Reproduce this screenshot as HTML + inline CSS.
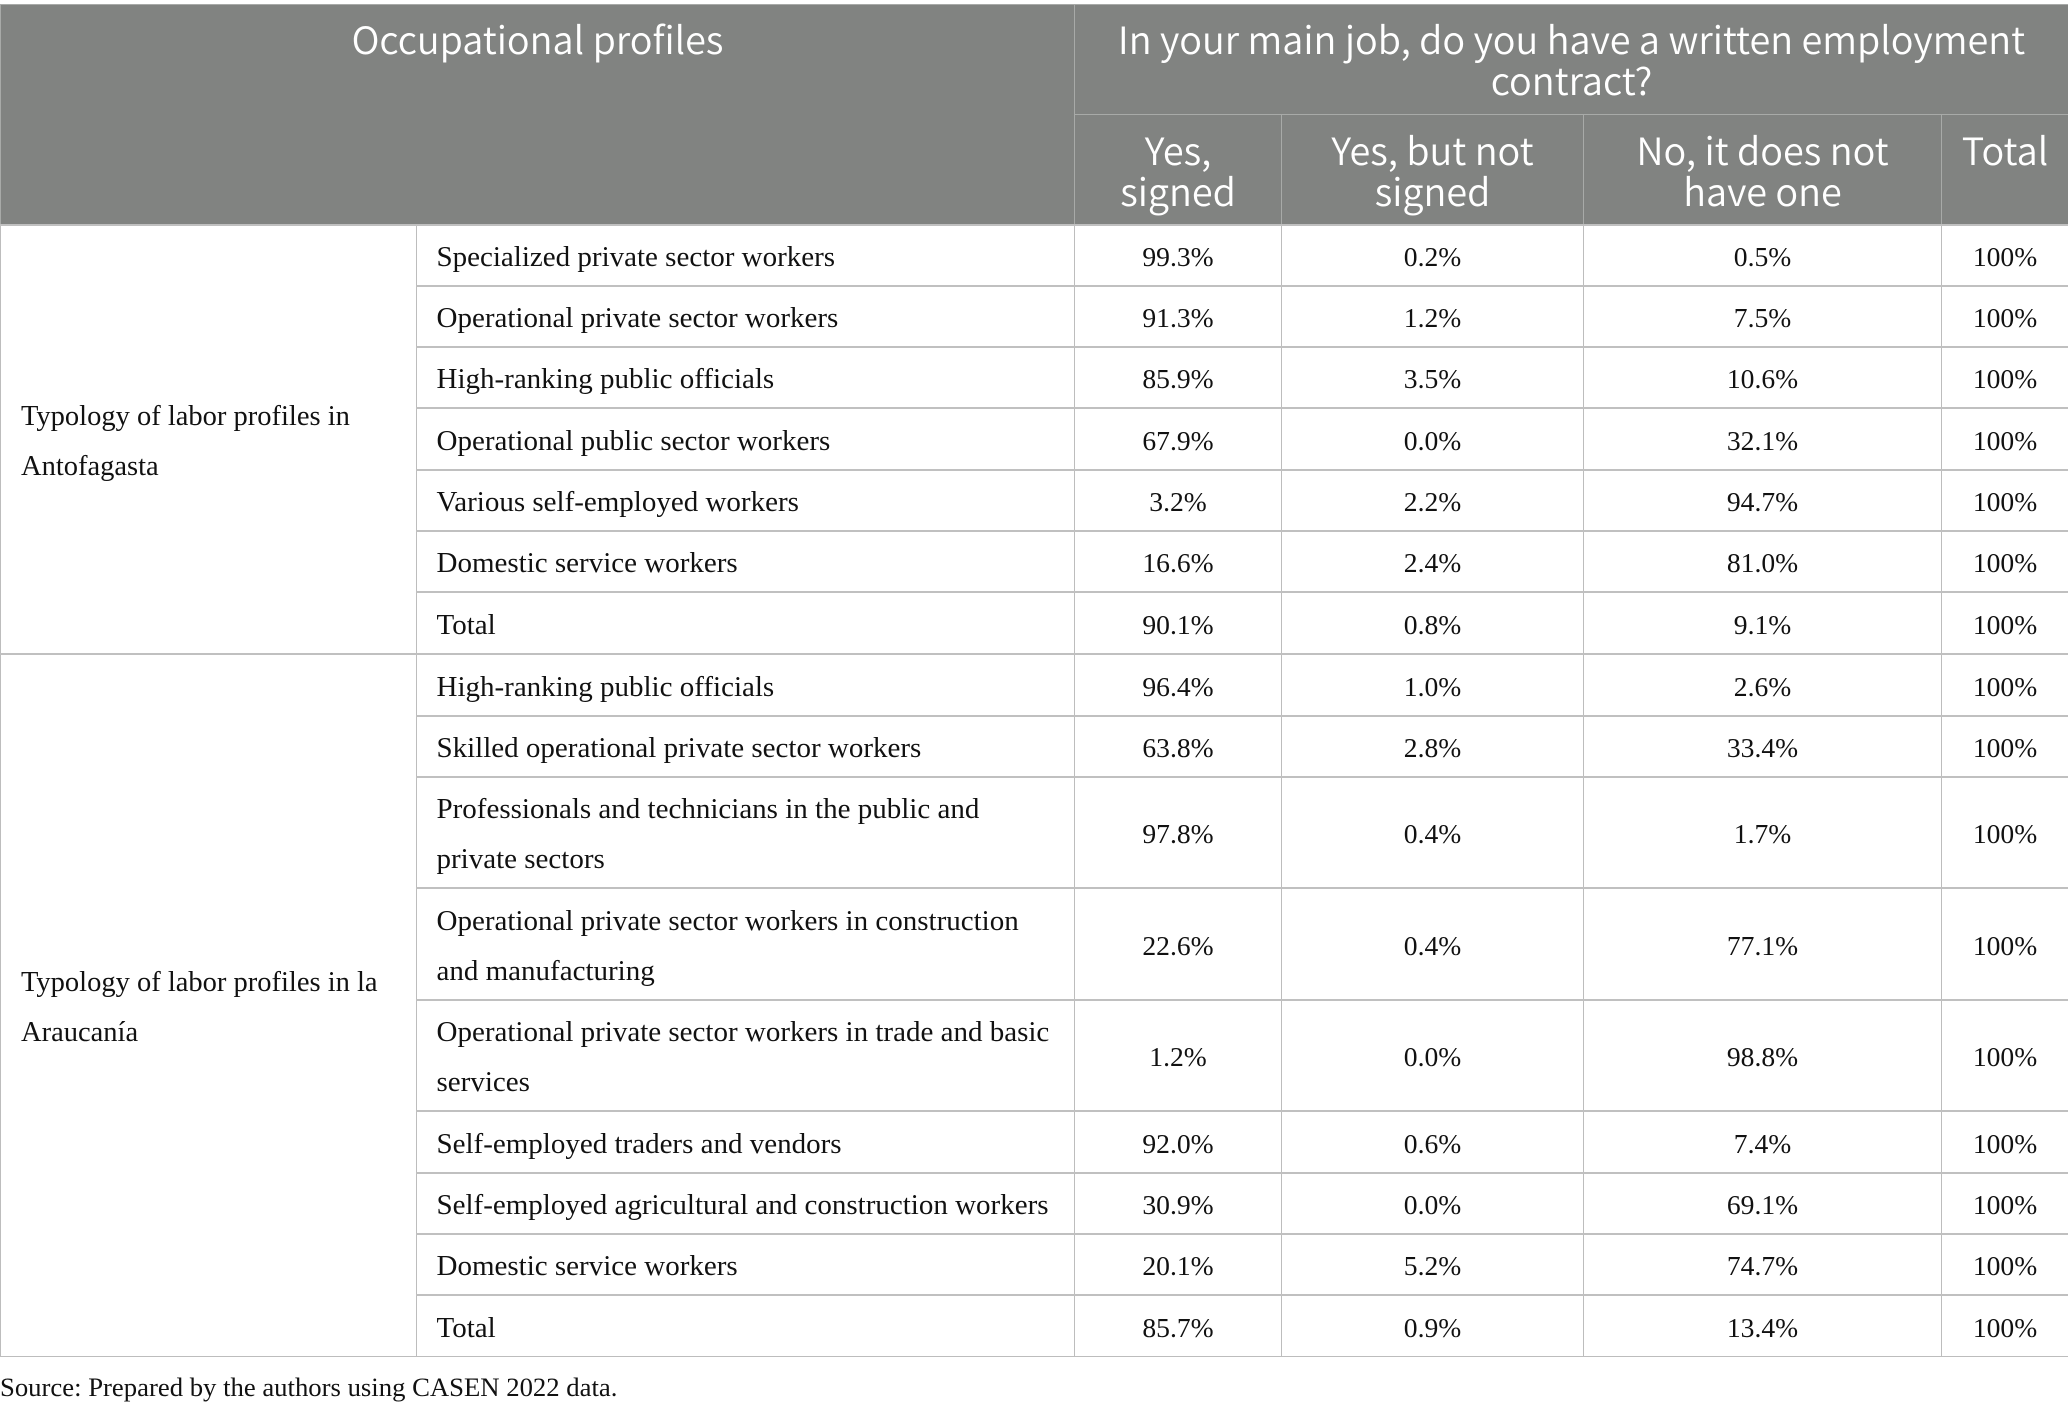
<!DOCTYPE html>
<html lang="en">
<head>
<meta charset="utf-8">
<title>Occupational profiles and written employment contracts</title>
<style>
html,body{margin:0;padding:0;background:#fff;width:2068px;height:1409px;overflow:hidden}
table{position:absolute;left:0;top:4px;width:2068px;table-layout:fixed;border-collapse:collapse;font-family:"Liberation Serif",serif;font-size:28px;color:#111}
td,th{border:1px solid #bdbdbd;padding:0;box-sizing:border-box;overflow:hidden}
tbody tr{height:61px}
tbody tr:nth-child(4),tbody tr:nth-child(7),tbody tr:nth-child(8),tbody tr:nth-child(13),tbody tr:nth-child(16){height:62px}
tbody tr.tall{height:111px}
tbody tr:nth-child(11){height:112px}
tbody tr td{border-top-width:2px;border-top-color:#c0c0c0}
th{background:#818381;color:#fff;font-family:"Noto Sans CJK JP","Liberation Sans",sans-serif;font-weight:350;font-size:37.8px;line-height:41px;vertical-align:top;text-align:center;border-color:#a8aaa8}
th.top{padding-top:12px}
th.sub{padding-top:13px}
td.group{padding-left:20px;padding-top:5px;font-size:28.5px;line-height:50px;vertical-align:middle;text-align:left}
td.label{padding-left:19.5px;padding-top:4px;font-size:29px;line-height:50px;text-align:left;vertical-align:middle}
td.num{text-align:center;vertical-align:middle;padding-top:4px;font-size:27.6px}
#source{position:absolute;left:0;top:1370px;font-family:"Liberation Serif",serif;font-size:26.7px;line-height:34px;color:#111;white-space:nowrap}
</style>
</head>
<body>
<table>
<colgroup>
<col style="width:416px"><col style="width:658px"><col style="width:207px"><col style="width:302px"><col style="width:358px"><col style="width:127px">
</colgroup>
<thead>
<tr style="height:110px">
<th class="top" colspan="2" rowspan="2">Occupational profiles</th>
<th class="top" colspan="4">In your main job, do you have a written employment contract?</th>
</tr>
<tr style="height:110px">
<th class="sub">Yes,<br>signed</th>
<th class="sub">Yes, but not<br>signed</th>
<th class="sub">No, it does not<br>have one</th>
<th class="sub">Total</th>
</tr>
</thead>
<tbody>
<tr><td class="group" rowspan="7">Typology of labor profiles in<br>Antofagasta</td><td class="label">Specialized private sector workers</td><td class="num">99.3%</td><td class="num">0.2%</td><td class="num">0.5%</td><td class="num">100%</td></tr>
<tr><td class="label">Operational private sector workers</td><td class="num">91.3%</td><td class="num">1.2%</td><td class="num">7.5%</td><td class="num">100%</td></tr>
<tr><td class="label">High-ranking public officials</td><td class="num">85.9%</td><td class="num">3.5%</td><td class="num">10.6%</td><td class="num">100%</td></tr>
<tr><td class="label">Operational public sector workers</td><td class="num">67.9%</td><td class="num">0.0%</td><td class="num">32.1%</td><td class="num">100%</td></tr>
<tr><td class="label">Various self-employed workers</td><td class="num">3.2%</td><td class="num">2.2%</td><td class="num">94.7%</td><td class="num">100%</td></tr>
<tr><td class="label">Domestic service workers</td><td class="num">16.6%</td><td class="num">2.4%</td><td class="num">81.0%</td><td class="num">100%</td></tr>
<tr><td class="label">Total</td><td class="num">90.1%</td><td class="num">0.8%</td><td class="num">9.1%</td><td class="num">100%</td></tr>
<tr><td class="group" rowspan="9">Typology of labor profiles in la<br>Araucanía</td><td class="label">High-ranking public officials</td><td class="num">96.4%</td><td class="num">1.0%</td><td class="num">2.6%</td><td class="num">100%</td></tr>
<tr><td class="label">Skilled operational private sector workers</td><td class="num">63.8%</td><td class="num">2.8%</td><td class="num">33.4%</td><td class="num">100%</td></tr>
<tr class="tall"><td class="label">Professionals and technicians in the public and<br>private sectors</td><td class="num">97.8%</td><td class="num">0.4%</td><td class="num">1.7%</td><td class="num">100%</td></tr>
<tr class="tall"><td class="label">Operational private sector workers in construction<br>and manufacturing</td><td class="num">22.6%</td><td class="num">0.4%</td><td class="num">77.1%</td><td class="num">100%</td></tr>
<tr class="tall"><td class="label">Operational private sector workers in trade and basic<br>services</td><td class="num">1.2%</td><td class="num">0.0%</td><td class="num">98.8%</td><td class="num">100%</td></tr>
<tr><td class="label">Self-employed traders and vendors</td><td class="num">92.0%</td><td class="num">0.6%</td><td class="num">7.4%</td><td class="num">100%</td></tr>
<tr><td class="label">Self-employed agricultural and construction workers</td><td class="num">30.9%</td><td class="num">0.0%</td><td class="num">69.1%</td><td class="num">100%</td></tr>
<tr><td class="label">Domestic service workers</td><td class="num">20.1%</td><td class="num">5.2%</td><td class="num">74.7%</td><td class="num">100%</td></tr>
<tr><td class="label">Total</td><td class="num">85.7%</td><td class="num">0.9%</td><td class="num">13.4%</td><td class="num">100%</td></tr>
</tbody>
</table>
<div id="source">Source: Prepared by the authors using CASEN 2022 data.</div>
</body>
</html>
